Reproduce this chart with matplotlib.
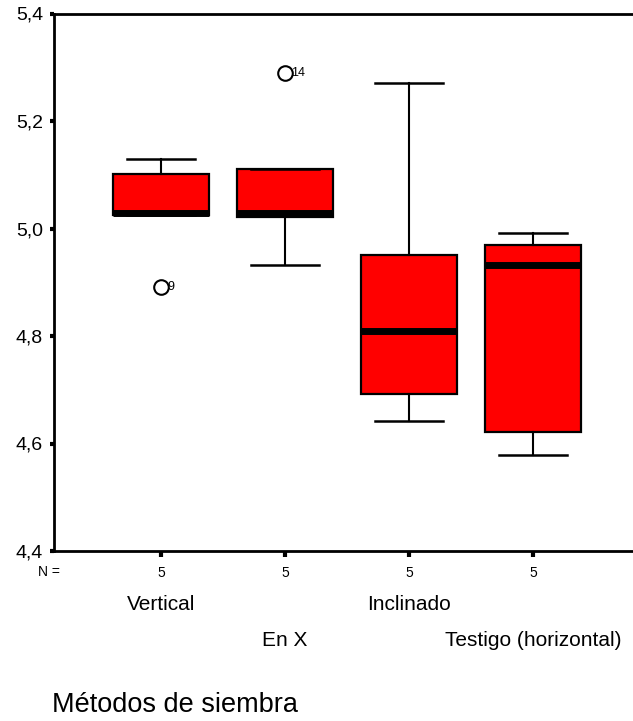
import matplotlib
matplotlib.use("Agg")
import matplotlib.pyplot as plt

categories = ["Vertical", "En X", "Inclinado", "Testigo (horizontal)"]
n_counts = [5, 5, 5, 5]
whisker_low = [5.025, 4.932, 4.642, 4.579]
q1 = [5.025, 5.022, 4.692, 4.621]
medians = [5.029, 5.029, 4.810, 4.933]
q3 = [5.101, 5.111, 4.951, 4.970]
whisker_high = [5.130, 5.111, 5.271, 4.992]
outliers = [[4.892], [5.290], [], []]
outlier_ids = [["9"], ["14"], [], []]
yticks = [4.4, 4.6, 4.8, 5.0, 5.2, 5.4]
ytick_labels = ["4,4", "4,6", "4,8", "5,0", "5,2", "5,4"]

plt.rcParams['font.family'] = ['Liberation Sans', 'DejaVu Sans']

fig = plt.figure(figsize=(6.33, 7.21), dpi=100)
ax = fig.add_axes([54/633, 1 - 551/721, 1 - 54/633, (551 - 13.5)/721])

stats = []
for i in range(len(categories)):
    stats.append(dict(med=medians[i], q1=q1[i], q3=q3[i],
                      whislo=whisker_low[i], whishi=whisker_high[i],
                      fliers=outliers[i]))
positions = list(range(1, len(categories) + 1))
ax.bxp(stats, positions=positions, widths=0.78, patch_artist=True,
       boxprops=dict(facecolor="#ff0000", edgecolor="black", linewidth=1.6),
       medianprops=dict(color="black", linewidth=5, solid_capstyle="butt"),
       whiskerprops=dict(color="black", linewidth=1.5),
       capprops=dict(color="black", linewidth=1.8),
       capwidths=0.55,
       flierprops=dict(marker="o", markersize=10.5, markerfacecolor="none",
                       markeredgecolor="black", markeredgewidth=1.5))

for i, (vals, ids) in enumerate(zip(outliers, outlier_ids)):
    for v, lab in zip(vals, ids):
        ax.annotate(lab, (positions[i], v), xytext=(4.5, 0), textcoords="offset points",
                    ha="left", va="center", fontsize=9)

ax.set_xlim(1 - 107/124, 1 + (633 - 161)/124)
ax.set_ylim(4.4, 5.4)
ax.set_yticks(yticks)
ax.set_yticklabels(ytick_labels, fontsize=14)
ax.tick_params(axis="y", length=3, width=3, pad=5, direction="out")
ax.set_xticks(positions)
ax.set_xticklabels([str(n) for n in n_counts], fontsize=10)
ax.tick_params(axis="x", length=4, width=3, pad=7, direction="out")
ax.spines["right"].set_visible(False)
for s in ["left", "top", "bottom"]:
    ax.spines[s].set_linewidth(2)

fig.text(38/633, 1 - 572/721, "N =", fontsize=10, ha="left", va="center")

for i, cat in enumerate(categories):
    xd = (positions[i] - ax.get_xlim()[0]) / (ax.get_xlim()[1] - ax.get_xlim()[0])
    xf = 54/633 + xd * (1 - 54/633)
    yp = 604 if i % 2 == 0 else 641
    fig.text(xf, 1 - yp/721, cat, fontsize=15, ha="center", va="center")

fig.text(52/633, 1 - 705/721, "Métodos de siembra", fontsize=19.5, ha="left", va="center")

fig.savefig("out.png", dpi=100)
